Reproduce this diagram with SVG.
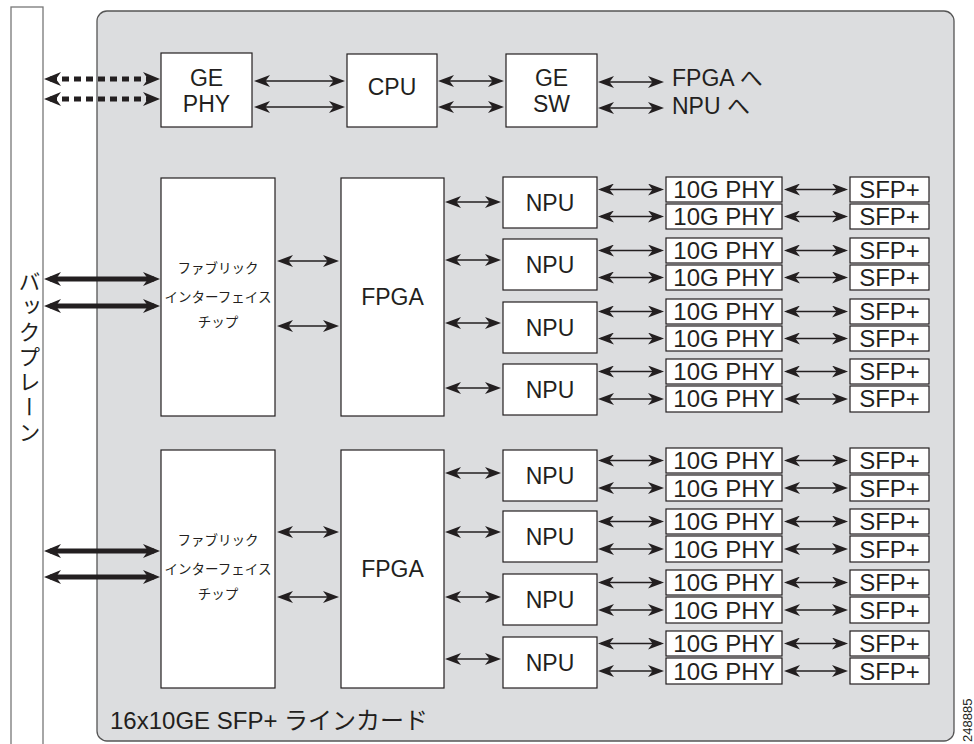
<svg xmlns="http://www.w3.org/2000/svg" width="974" height="744" viewBox="0 0 974 744">
<defs>
<style>
.bx{fill:#fff;stroke:#231f20;stroke-width:1.2}
.t{font-family:"Liberation Sans",Arial,sans-serif;font-size:23px;fill:#231f20;text-anchor:middle}
.t24{font-family:"Liberation Sans",Arial,sans-serif;font-size:24px;fill:#231f20;text-anchor:middle}
.jp{font-family:"Liberation Sans","Noto Sans CJK JP",sans-serif;fill:#231f20}
.thin{stroke:#231f20;stroke-width:1.6;fill:none;marker-start:url(#ah);marker-end:url(#ah)}
.thick{stroke:#231f20;stroke-width:5;fill:none;marker-start:url(#ahb);marker-end:url(#ahb)}
.dot{stroke:#231f20;stroke-width:5;fill:none;stroke-dasharray:7 5;marker-start:url(#ahb);marker-end:url(#ahb)}
</style>
<marker id="ah" viewBox="0 0 16 12" refX="13" refY="6" markerWidth="16" markerHeight="12" markerUnits="userSpaceOnUse" orient="auto-start-reverse">
<path d="M0,0 L16,6 L0,12 L4.5,6 z" fill="#231f20"/>
</marker>
<marker id="ahb" viewBox="0 0 17 14" refX="11" refY="7" markerWidth="17" markerHeight="14" markerUnits="userSpaceOnUse" orient="auto-start-reverse">
<path d="M0,0 L17,7 L0,14 L5,7 z" fill="#231f20"/>
</marker>
</defs>
<rect width="974" height="744" fill="#fff"/>
<g id="backplane">
<rect x="11" y="7" width="32" height="745" fill="#fff" stroke="#777" stroke-width="1.3"/>
<text class="jp" x="27" y="271" font-size="22" letter-spacing="3" style="writing-mode:vertical-rl">バックプレーン</text>
</g>
<g id="linecard">
<rect x="97" y="11" width="857" height="730" rx="10" fill="#dcdddf" stroke="#555" stroke-width="1.3"/>
<text class="jp" x="110" y="729" font-size="24">16x10GE SFP+ ラインカード</text>
</g>
<g id="gephy"><rect class="bx" x="161" y="53" width="91" height="74"/><text class="t" x="206.5" y="86">GE</text><text class="t" x="206.5" y="112">PHY</text></g>
<g id="cpu"><rect class="bx" x="347" y="54" width="90" height="73"/><text class="t" x="392" y="95">CPU</text></g>
<g id="gesw"><rect class="bx" x="506" y="54" width="91" height="73"/><text class="t" x="551.5" y="86">GE</text><text class="t" x="551.5" y="112">SW</text></g>
<g id="to-labels"><text class="jp" x="672" y="86" font-size="23">FPGA へ</text><text class="jp" x="672" y="114" font-size="23">NPU へ</text></g>
<g id="fabric1"><rect class="bx" x="161" y="178" width="114" height="238"/>
<text class="jp" x="218" y="273" font-size="13.5" text-anchor="middle">ファブリック</text>
<text class="jp" x="218" y="302" font-size="13.5" text-anchor="middle">インターフェイス</text>
<text class="jp" x="218" y="327" font-size="13.5" text-anchor="middle">チップ</text></g>
<g id="fpga1"><rect class="bx" x="341" y="178" width="103" height="238"/><text class="t" x="392.5" y="305">FPGA</text></g>
<g id="fabric2"><rect class="bx" x="161" y="450" width="114" height="238"/>
<text class="jp" x="218" y="545" font-size="13.5" text-anchor="middle">ファブリック</text>
<text class="jp" x="218" y="574" font-size="13.5" text-anchor="middle">インターフェイス</text>
<text class="jp" x="218" y="599" font-size="13.5" text-anchor="middle">チップ</text></g>
<g id="fpga2"><rect class="bx" x="341" y="450" width="103" height="238"/><text class="t" x="392.5" y="577">FPGA</text></g>
<g id="npu1"><rect class="bx" x="503" y="177" width="94" height="51"/><text class="t" x="550" y="210.5">NPU</text></g>
<g id="npu2"><rect class="bx" x="503" y="239" width="94" height="51"/><text class="t" x="550" y="272.5">NPU</text></g>
<g id="npu3"><rect class="bx" x="503" y="302" width="94" height="51"/><text class="t" x="550" y="335.5">NPU</text></g>
<g id="npu4"><rect class="bx" x="503" y="364" width="94" height="51"/><text class="t" x="550" y="397.5">NPU</text></g>
<g id="npu5"><rect class="bx" x="503" y="450" width="94" height="51"/><text class="t" x="550" y="483.5">NPU</text></g>
<g id="npu6"><rect class="bx" x="503" y="511" width="94" height="51"/><text class="t" x="550" y="544.5">NPU</text></g>
<g id="npu7"><rect class="bx" x="503" y="574" width="94" height="51"/><text class="t" x="550" y="607.5">NPU</text></g>
<g id="npu8"><rect class="bx" x="503" y="637" width="94" height="51"/><text class="t" x="550" y="670.5">NPU</text></g>
<g id="phy1"><rect class="bx" x="666" y="177" width="116" height="25"/><text class="t24" x="724" y="198">10G PHY</text></g>
<g id="phy2"><rect class="bx" x="666" y="204" width="116" height="25"/><text class="t24" x="724" y="225">10G PHY</text></g>
<g id="phy3"><rect class="bx" x="666" y="238" width="116" height="25"/><text class="t24" x="724" y="259">10G PHY</text></g>
<g id="phy4"><rect class="bx" x="666" y="265" width="116" height="25"/><text class="t24" x="724" y="286">10G PHY</text></g>
<g id="phy5"><rect class="bx" x="666" y="299" width="116" height="25"/><text class="t24" x="724" y="320">10G PHY</text></g>
<g id="phy6"><rect class="bx" x="666" y="326" width="116" height="25"/><text class="t24" x="724" y="347">10G PHY</text></g>
<g id="phy7"><rect class="bx" x="666" y="359" width="116" height="25"/><text class="t24" x="724" y="380">10G PHY</text></g>
<g id="phy8"><rect class="bx" x="666" y="386" width="116" height="26"/><text class="t24" x="724" y="407">10G PHY</text></g>
<g id="phy9"><rect class="bx" x="666" y="448" width="116" height="25"/><text class="t24" x="724" y="469">10G PHY</text></g>
<g id="phy10"><rect class="bx" x="666" y="475" width="116" height="26"/><text class="t24" x="724" y="497">10G PHY</text></g>
<g id="phy11"><rect class="bx" x="666" y="509" width="116" height="25"/><text class="t24" x="724" y="530">10G PHY</text></g>
<g id="phy12"><rect class="bx" x="666" y="536" width="116" height="26"/><text class="t24" x="724" y="558">10G PHY</text></g>
<g id="phy13"><rect class="bx" x="666" y="570" width="116" height="25"/><text class="t24" x="724" y="591">10G PHY</text></g>
<g id="phy14"><rect class="bx" x="666" y="597" width="116" height="26"/><text class="t24" x="724" y="619">10G PHY</text></g>
<g id="phy15"><rect class="bx" x="666" y="631" width="116" height="25"/><text class="t24" x="724" y="652">10G PHY</text></g>
<g id="phy16"><rect class="bx" x="666" y="658" width="116" height="26"/><text class="t24" x="724" y="680">10G PHY</text></g>
<g id="sfp1"><rect class="bx" x="850" y="177" width="79" height="25"/><text class="t24" x="889.5" y="198">SFP+</text></g>
<g id="sfp2"><rect class="bx" x="850" y="204" width="79" height="25"/><text class="t24" x="889.5" y="225">SFP+</text></g>
<g id="sfp3"><rect class="bx" x="850" y="238" width="79" height="25"/><text class="t24" x="889.5" y="259">SFP+</text></g>
<g id="sfp4"><rect class="bx" x="850" y="265" width="79" height="25"/><text class="t24" x="889.5" y="286">SFP+</text></g>
<g id="sfp5"><rect class="bx" x="850" y="299" width="79" height="25"/><text class="t24" x="889.5" y="320">SFP+</text></g>
<g id="sfp6"><rect class="bx" x="850" y="326" width="79" height="25"/><text class="t24" x="889.5" y="347">SFP+</text></g>
<g id="sfp7"><rect class="bx" x="850" y="359" width="79" height="25"/><text class="t24" x="889.5" y="380">SFP+</text></g>
<g id="sfp8"><rect class="bx" x="850" y="386" width="79" height="26"/><text class="t24" x="889.5" y="407">SFP+</text></g>
<g id="sfp9"><rect class="bx" x="850" y="448" width="79" height="25"/><text class="t24" x="889.5" y="469">SFP+</text></g>
<g id="sfp10"><rect class="bx" x="850" y="475" width="79" height="26"/><text class="t24" x="889.5" y="497">SFP+</text></g>
<g id="sfp11"><rect class="bx" x="850" y="509" width="79" height="25"/><text class="t24" x="889.5" y="530">SFP+</text></g>
<g id="sfp12"><rect class="bx" x="850" y="536" width="79" height="26"/><text class="t24" x="889.5" y="558">SFP+</text></g>
<g id="sfp13"><rect class="bx" x="850" y="570" width="79" height="25"/><text class="t24" x="889.5" y="591">SFP+</text></g>
<g id="sfp14"><rect class="bx" x="850" y="597" width="79" height="26"/><text class="t24" x="889.5" y="619">SFP+</text></g>
<g id="sfp15"><rect class="bx" x="850" y="631" width="79" height="25"/><text class="t24" x="889.5" y="652">SFP+</text></g>
<g id="sfp16"><rect class="bx" x="850" y="658" width="79" height="26"/><text class="t24" x="889.5" y="680">SFP+</text></g>
<g id="connectors">
<line class="dot" x1="50" y1="79" x2="154" y2="79"/>
<line class="dot" x1="50" y1="99" x2="154" y2="99"/>
<line class="thin" x1="257" y1="81" x2="342" y2="81"/>
<line class="thin" x1="257" y1="107" x2="342" y2="107"/>
<line class="thin" x1="441" y1="81" x2="501" y2="81"/>
<line class="thin" x1="441" y1="107" x2="501" y2="107"/>
<line class="thin" x1="601" y1="82" x2="661" y2="82"/>
<line class="thin" x1="601" y1="108" x2="661" y2="108"/>
<line class="thick" x1="50" y1="279" x2="154" y2="279"/>
<line class="thick" x1="50" y1="306" x2="154" y2="306"/>
<line class="thick" x1="50" y1="551" x2="154" y2="551"/>
<line class="thick" x1="50" y1="577" x2="154" y2="577"/>
<line class="thin" x1="280" y1="261" x2="336" y2="261"/>
<line class="thin" x1="280" y1="326" x2="336" y2="326"/>
<line class="thin" x1="280" y1="532" x2="336" y2="532"/>
<line class="thin" x1="280" y1="597" x2="336" y2="597"/>
<line class="thin" x1="448" y1="202" x2="498" y2="202"/>
<line class="thin" x1="448" y1="260" x2="498" y2="260"/>
<line class="thin" x1="448" y1="323" x2="498" y2="323"/>
<line class="thin" x1="448" y1="388" x2="498" y2="388"/>
<line class="thin" x1="448" y1="473" x2="498" y2="473"/>
<line class="thin" x1="448" y1="532" x2="498" y2="532"/>
<line class="thin" x1="448" y1="597" x2="498" y2="597"/>
<line class="thin" x1="448" y1="659" x2="498" y2="659"/>
<g id="npu-phy">
<line class="thin" x1="601" y1="189.5" x2="661" y2="189.5"/>
<line class="thin" x1="601" y1="216.5" x2="661" y2="216.5"/>
<line class="thin" x1="601" y1="250.5" x2="661" y2="250.5"/>
<line class="thin" x1="601" y1="277.5" x2="661" y2="277.5"/>
<line class="thin" x1="601" y1="311.5" x2="661" y2="311.5"/>
<line class="thin" x1="601" y1="338.5" x2="661" y2="338.5"/>
<line class="thin" x1="601" y1="371.5" x2="661" y2="371.5"/>
<line class="thin" x1="601" y1="399" x2="661" y2="399"/>
<line class="thin" x1="601" y1="460.5" x2="661" y2="460.5"/>
<line class="thin" x1="601" y1="488" x2="661" y2="488"/>
<line class="thin" x1="601" y1="521.5" x2="661" y2="521.5"/>
<line class="thin" x1="601" y1="549" x2="661" y2="549"/>
<line class="thin" x1="601" y1="582.5" x2="661" y2="582.5"/>
<line class="thin" x1="601" y1="610" x2="661" y2="610"/>
<line class="thin" x1="601" y1="643.5" x2="661" y2="643.5"/>
<line class="thin" x1="601" y1="671" x2="661" y2="671"/>
</g>
<g id="phy-sfp">
<line class="thin" x1="787" y1="189.5" x2="845" y2="189.5"/>
<line class="thin" x1="787" y1="216.5" x2="845" y2="216.5"/>
<line class="thin" x1="787" y1="250.5" x2="845" y2="250.5"/>
<line class="thin" x1="787" y1="277.5" x2="845" y2="277.5"/>
<line class="thin" x1="787" y1="311.5" x2="845" y2="311.5"/>
<line class="thin" x1="787" y1="338.5" x2="845" y2="338.5"/>
<line class="thin" x1="787" y1="371.5" x2="845" y2="371.5"/>
<line class="thin" x1="787" y1="399" x2="845" y2="399"/>
<line class="thin" x1="787" y1="460.5" x2="845" y2="460.5"/>
<line class="thin" x1="787" y1="488" x2="845" y2="488"/>
<line class="thin" x1="787" y1="521.5" x2="845" y2="521.5"/>
<line class="thin" x1="787" y1="549" x2="845" y2="549"/>
<line class="thin" x1="787" y1="582.5" x2="845" y2="582.5"/>
<line class="thin" x1="787" y1="610" x2="845" y2="610"/>
<line class="thin" x1="787" y1="643.5" x2="845" y2="643.5"/>
<line class="thin" x1="787" y1="671" x2="845" y2="671"/>
</g>
</g>
<text x="972" y="742" transform="rotate(-90 972 742)" font-family="'Liberation Sans',Arial,sans-serif" font-size="13" fill="#231f20">248885</text>
</svg>
